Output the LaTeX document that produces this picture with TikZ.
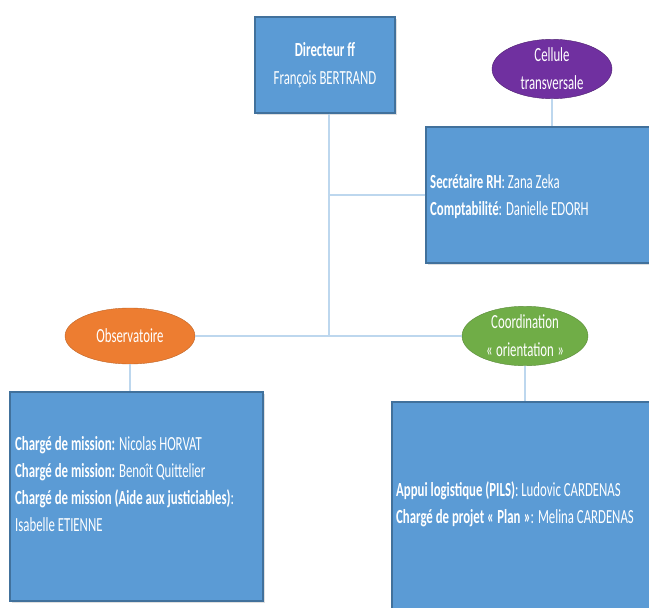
\documentclass[tikz,border=0pt]{standalone}
\usepackage{fontspec}
\setmainfont{Carlito}[FakeStretch=0.64]
\usetikzlibrary{shapes.geometric,shadows}

\definecolor{boxblue}{HTML}{5B9BD5}
\definecolor{boxedge}{HTML}{41719C}
\definecolor{linkblue}{HTML}{BDD7EE}
\definecolor{celpurple}{HTML}{7030A0}
\definecolor{obsorange}{HTML}{ED7D31}
\definecolor{coordgreen}{HTML}{70AD47}

\tikzset{
  unitbox/.style={rectangle, fill=boxblue, draw=boxedge, line width=1.2pt,
    drop shadow={opacity=0.25, shadow xshift=2pt, shadow yshift=-2pt}},
  unitoval/.style={ellipse, text=white, inner sep=0pt, align=center,
    font=\fontsize{20}{28}\selectfont},
  unittext/.style={text=white, align=left, anchor=west, inner sep=0pt,
    font=\fontsize{20}{27}\selectfont},
  link/.style={linkblue, line width=1.3pt}
}

\begin{document}
\begin{tikzpicture}[x=1pt, y=-1pt]
  \useasboundingbox (0,0) rectangle (649,608);

  % boxes
  \node[unitbox, minimum width=140pt, minimum height=96pt, text=white,
    align=center, font=\fontsize{20}{28}\selectfont] (dir) at (325,65)
    {\textbf{Directeur ff}\\François BERTRAND};
  \node[unitbox, minimum width=234pt, minimum height=136pt] (sec) at (543,195) {};
  \node[unitbox, minimum width=253pt, minimum height=209pt] (obsbox) at (136.5,496.5) {};
  \node[unitbox, minimum width=268pt, minimum height=208pt] (coordbox) at (526,506) {};

  % ovals
  \node[unitoval, fill=celpurple, draw=celpurple!70!black, minimum width=120pt,
    minimum height=48pt] (cel) at (552,69) {Cellule\\transversale};
  \node[unitoval, fill=obsorange, draw=obsorange!80!black, minimum width=130pt,
    minimum height=56pt] (obs) at (130,336) {Observatoire};
  \node[unitoval, fill=coordgreen, draw=coordgreen!80!black, minimum width=126pt,
    minimum height=54pt] (coord) at (525,336) {Coordination\\«\,orientation\,»};

  % texts
  \node[unittext] (sectext) at (430,197)
    {\textbf{Secrétaire RH}: Zana Zeka\\
     \textbf{Comptabilité}: Danielle EDORH};
  \node[unittext] (obstext) at (15,484)
    {\textbf{Chargé de mission:} Nicolas HORVAT\\
     \textbf{Chargé de mission:} Benoît Quittelier\\
     \textbf{Chargé de mission (Aide aux justiciables)}:\\
     Isabelle ETIENNE};
  \node[unittext] (coordtext) at (396,504)
    {\textbf{Appui logistique (PILS)}: Ludovic CARDENAS\\
     \textbf{Chargé de projet «\,Plan\,»}: Melina CARDENAS};

  % connectors
  \coordinate (hub) at (329,336);
  \draw[link] (dir.south -| hub) -- (hub);
  \draw[link] (sec.west) -- (sec.west -| hub);
  \draw[link] (obs.east) -- (coord.west);
  \draw[link] (cel.south) -- (cel.south |- sec.north);
  \draw[link] (obs.south) -- (obs.south |- obsbox.north);
  \draw[link] (coord.south) -- (coord.south |- coordbox.north);
\end{tikzpicture}
\end{document}
